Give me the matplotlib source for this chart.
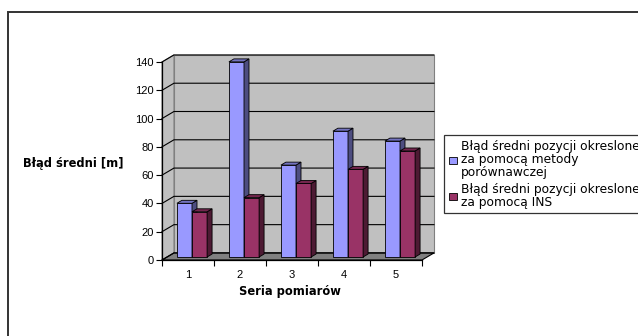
import numpy as np
import matplotlib
matplotlib.use("Agg")
from matplotlib import pyplot as plt
from matplotlib.patches import Polygon, Rectangle

plt.rcParams['font.family'] = ['Liberation Sans', 'DejaVu Sans']

# mean error per measurement series [m]
series = ['1', '2', '3', '4', '5']
err_compare = [38, 138, 65, 89, 82]
err_ins = [32, 42, 52, 62, 75]
labels = ['Błąd średni pozycji okreslone\nza pomocą metody\nporównawczej',
          'Błąd średni pozycji okreslone\nza pomocą INS']
yticks = [0, 20, 40, 60, 80, 100, 120, 140]

face = ['#9999ff', '#993366']
side = ['#4d4d80', '#4d1a33']
top = ['#7373bf', '#73264d']

W, H = 638, 336
fig = plt.figure(figsize=(W / 100, H / 100), dpi=100)
ax = fig.add_axes([162 / W, 1 - 260 / H, 260 / W, 198 / H])
ax.set_xlim(0.5, 5.5)
ax.set_ylim(0, 140)

# depth of the walls and bars, in data units
ddx, ddy = 0.23, 5.0
bdx, bdy = 0.077, 2.1
sdx, sdy = 0.096, 2.1
bw = 0.29

def poly(pts, fc, ec='none', lw=0.8, z=0):
    p = Polygon(pts, closed=True, fc=fc, ec=ec, lw=lw, zorder=z, clip_on=False)
    ax.add_patch(p)

# walls and floor
x0, x1, ymax = 0.5, 5.5, 140
poly([(x0 + ddx, ddy), (x1 + ddx, ddy), (x1 + ddx, ymax + ddy), (x0 + ddx, ymax + ddy)],
     '#c0c0c0', '#808080', z=0)
poly([(x0, 0), (x0 + ddx, ddy), (x0 + ddx, ymax + ddy), (x0, ymax)], '#c0c0c0', '#808080', z=0)
poly([(x0, 0), (x1, 0), (x1 + ddx, ddy), (x0 + ddx, ddy)], '#808080', '#000000', z=0.2)

for v in yticks:
    ax.plot([x0, x0 + ddx, x1 + ddx], [v, v + ddy, v + ddy], color='black', lw=0.8,
            zorder=0.5, clip_on=False)

# 3d bars
for i in range(len(series)):
    for s, vals in enumerate([err_compare, err_ins]):
        v = vals[i]
        xl = i + 1 - bw + s * bw + bdx
        xr = xl + bw
        z = 2 + i * 2 + s
        ax.bar(xl, v, width=bw, bottom=bdy, align='edge', color=face[s],
               edgecolor='black', lw=0.6, zorder=z, clip_on=False)
        poly([(xr, bdy), (xr + sdx, bdy + sdy), (xr + sdx, v + bdy + sdy), (xr, v + bdy)],
             side[s], 'black', 0.6, z)
        poly([(xl, v + bdy), (xr, v + bdy), (xr + sdx, v + bdy + sdy), (xl + sdx, v + bdy + sdy)],
             top[s], 'black', 0.6, z)

# axes
for sp in ['top', 'right']:
    ax.spines[sp].set_visible(False)
ax.spines['left'].set_linewidth(0.9)
ax.spines['bottom'].set_linewidth(0.9)
ax.spines['left'].set_zorder(30)
ax.spines['bottom'].set_zorder(30)
ax.set_yticks(yticks)
ax.tick_params(axis='y', direction='out', length=4, width=0.8, labelsize=8, pad=2)
ax.set_xticks(range(1, 6))
ax.set_xticklabels(series)
ax.tick_params(axis='x', which='major', length=0, labelsize=8, pad=7)
ax.set_xticks(np.arange(0.5, 6, 1), minor=True)
ax.tick_params(axis='x', which='minor', direction='out', length=4, width=0.8)
ax.patch.set_visible(False)

fig.text(23 / W, 1 - 163 / H, 'Błąd średni [m]', fontsize=8.3, fontweight='bold', va='center',
         family='DejaVu Sans')
fig.text(290 / W, 1 - 291 / H, 'Seria pomiarów', fontsize=8.3, fontweight='bold',
         ha='center', va='center', family='DejaVu Sans')

handles = [Rectangle((0, 0), 1, 1, fc=face[k], ec='black', lw=0.6) for k in range(2)]
leg = fig.legend(handles, labels, loc='upper left', bbox_to_anchor=(444 / W, 1 - 135 / H),
                 prop={'family': 'DejaVu Sans', 'size': 8.8}, frameon=True, fancybox=False,
                 edgecolor='black', handlelength=0.65, handleheight=0.5, handletextpad=0.35,
                 borderpad=0.4, labelspacing=0.3, borderaxespad=0)
leg.get_frame().set_linewidth(0.9)
for t in leg.get_texts():
    t.set_linespacing(1.0)

# outer chart frame
fig.patches.append(Rectangle((8 / W, -0.1), 1.1, 1.1 - 12 / H, transform=fig.transFigure,
                             fill=False, ec='#333333', lw=1.4, figure=fig))

fig.savefig('out.png', dpi=100)
